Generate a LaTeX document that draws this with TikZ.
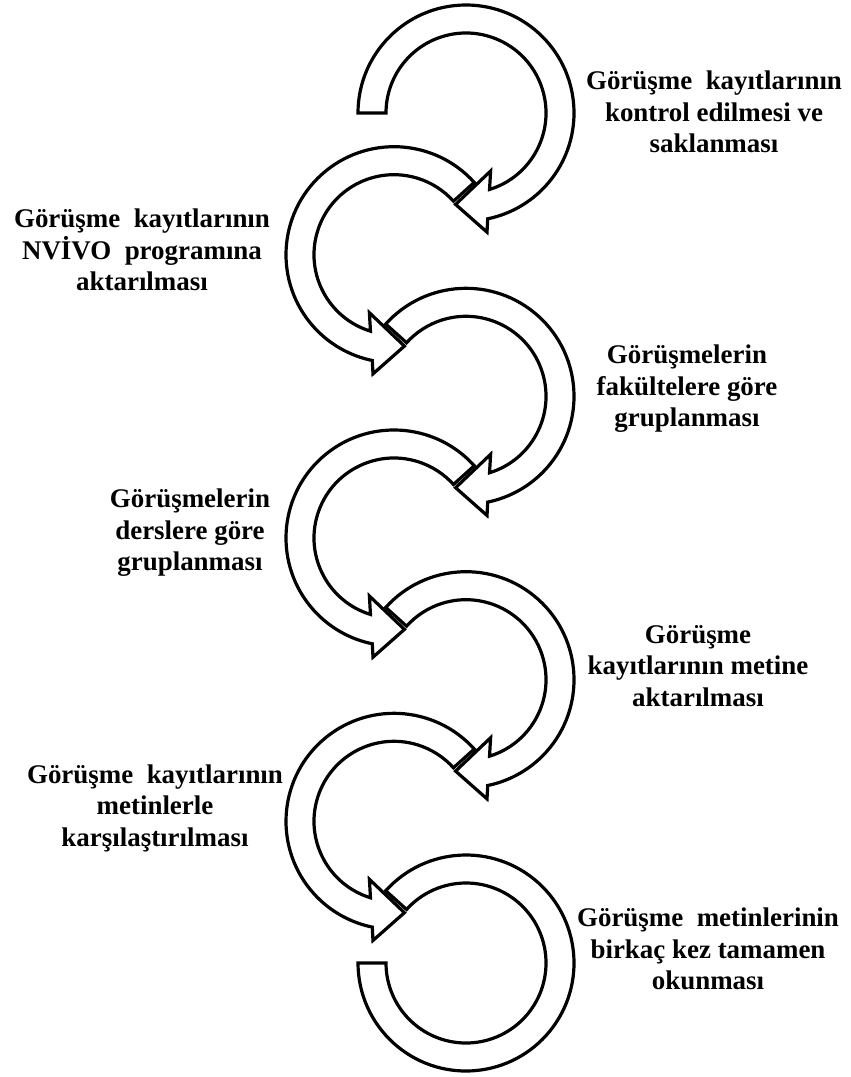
\documentclass[tikz,border=0pt]{standalone}
\usepackage{fontspec}
\setmainfont{Liberation Serif}
\tikzset{
  band/.style={draw=black,fill=white,line width=2.4pt,line join=miter,miter limit=10},
  lbl/.style={align=center,text=black,font=\bfseries\fontsize{20.2}{23.6}\selectfont,inner sep=0pt},
  pics/headed/.style={code={
    \draw[band] (#1:108) arc[start angle=#1,end angle=438.4,radius=108]
      -- (440:121) -- (456.5:92) -- (427:63) -- (432.9:80)
      arc[start angle=432.9,end angle=#1,radius=80] -- cycle;}},
  pics/plain/.style={code={
    \draw[band] (#1:108) arc[start angle=#1,end angle=540,radius=108]
      -- (540:80) arc[start angle=540,end angle=#1,radius=80] -- cycle;}}
}
\begin{document}
\begin{tikzpicture}[x=0.75pt,y=-0.75pt]
\useasboundingbox (0,0) rectangle (850,1077);
\pic (a1) at (466,113) {headed=180};
\pic[xscale=-1] (a2) at (394,254.7) {headed=222};
\pic (a3) at (466,396.3) {headed=222};
\pic[xscale=-1] (a4) at (394,538) {headed=222};
\pic (a5) at (466,679.7) {headed=222};
\pic[xscale=-1] (a6) at (394,821.3) {headed=222};
\pic (a7) at (466,963) {plain=222};

\node[lbl] (t1) at (714,112) {Görüşme\hspace{0.5em}kayıtlarının\\kontrol edilmesi ve\\saklanması};
\node[lbl] (t2) at (142,250) {Görüşme\hspace{0.5em}kayıtlarının\\NVİVO\hspace{0.5em}programına\\aktarılması};
\node[lbl] (t3) at (687,389) {Görüşmelerin\\fakültelere göre\\gruplanması};
\node[lbl] (t4) at (190,533) {Görüşmelerin\\derslere göre\\gruplanması};
\node[lbl] (t5) at (698,666) {Görüşme\\kayıtlarının metine\\aktarılması};
\node[lbl] (t6) at (155,808) {Görüşme\hspace{0.5em}kayıtlarının\\metinlerle\\karşılaştırılması};
\node[lbl] (t7) at (708,949) {Görüşme\hspace{0.5em}metinlerinin\\birkaç kez tamamen\\okunması};
\end{tikzpicture}
\end{document}
